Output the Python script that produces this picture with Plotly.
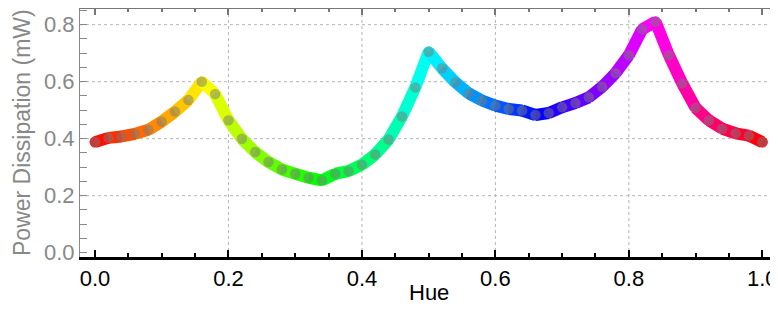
import colorsys
import plotly.graph_objects as go

hue = [round(i * 0.02, 2) for i in range(51)]
power = [0.388, 0.403, 0.408, 0.417, 0.431, 0.460, 0.495, 0.536, 0.600, 0.557,
         0.465, 0.400, 0.353, 0.318, 0.292, 0.277, 0.263, 0.254, 0.277, 0.286,
         0.309, 0.345, 0.397, 0.478, 0.580, 0.705, 0.647, 0.598, 0.559, 0.534,
         0.516, 0.504, 0.499, 0.483, 0.490, 0.510, 0.525, 0.545, 0.582, 0.630,
         0.693, 0.784, 0.810, 0.693, 0.594, 0.508, 0.464, 0.435, 0.419, 0.411,
         0.388]
grid_x = [0.2, 0.4, 0.6, 0.8]
grid_y = [0.2, 0.4, 0.6, 0.8]
x_title = "Hue"
y_title = "Power Dissipation (mW)"


def hue_rgb(h):
    r, g, b = colorsys.hsv_to_rgb(h % 1.0, 1, 1)
    return f"rgb({int(r*255)},{int(g*255)},{int(b*255)})"


fig = go.Figure()

# joint fillers
fig.add_trace(go.Scatter(x=hue, y=power, mode="markers",
                         marker=dict(size=11, color=[hue_rgb(h) for h in hue], line=dict(width=0)),
                         hoverinfo="skip", showlegend=False))
# coloured segments
for i in range(len(hue) - 1):
    hm = (hue[i] + hue[i + 1]) / 2
    fig.add_trace(go.Scatter(x=hue[i:i + 2], y=power[i:i + 2], mode="lines",
                             line=dict(color=hue_rgb(hm), width=12),
                             hoverinfo="skip", showlegend=False))
# grey dots
fig.add_trace(go.Scatter(x=hue, y=power, mode="markers",
                         marker=dict(size=10.5, color="rgba(122,122,122,0.5)", line=dict(width=0)),
                         hoverinfo="skip", showlegend=False))
# dummy on top axis
fig.add_trace(go.Scatter(x=[hue[0]], y=[power[0]], xaxis="x2", mode="markers",
                         marker=dict(opacity=0), hoverinfo="skip", showlegend=False))

shapes = []
for gx in grid_x:
    shapes.append(dict(type="line", xref="x", yref="paper", x0=gx, x1=gx, y0=0, y1=1,
                       line=dict(color="#b4b4b4", width=1, dash="dot"), layer="below"))
for gy in grid_y:
    shapes.append(dict(type="line", xref="paper", yref="y", x0=0, x1=1, y0=gy, y1=gy,
                       line=dict(color="#b4b4b4", width=1, dash="dot"), layer="below"))

annotations = [
    dict(text=x_title, xref="paper", yref="paper", x=0.5, y=0, yshift=-35,
         xanchor="center", yanchor="middle", showarrow=False,
         font=dict(size=22, color="black")),
    dict(text=y_title, xref="paper", yref="paper", x=0, y=0.5, xshift=-58,
         xanchor="center", yanchor="middle", showarrow=False, textangle=-90,
         font=dict(size=23, color="#888")),
]

xr = [-0.0225, 1.022]
fig.update_layout(
    width=770, height=317,
    margin=dict(l=72, r=1, t=1, b=68),
    paper_bgcolor="white", plot_bgcolor="white",
    font=dict(family="Liberation Sans, Arial, sans-serif"),
    shapes=shapes,
    annotations=annotations,
    xaxis=dict(range=xr, tick0=0, dtick=0.2, tickformat=".1f",
               ticks="inside", ticklen=7, tickwidth=2, tickcolor="black",
               showline=True, linecolor="black", linewidth=3,
               showgrid=False, zeroline=False, automargin=False,
               tickfont=dict(size=22, color="black"),
               minor=dict(dtick=0.05, tick0=0, ticks="inside", ticklen=4, tickwidth=1.5, tickcolor="black")),
    xaxis2=dict(range=xr, overlaying="x", side="top", anchor="y", tick0=0, dtick=0.2,
                ticks="inside", ticklen=6, tickwidth=2, tickcolor="#777",
                showline=True, linecolor="#777", linewidth=3, automargin=False,
                showgrid=False, zeroline=False, showticklabels=False,
                minor=dict(dtick=0.05, tick0=0, ticks="inside", ticklen=3, tickwidth=1.5, tickcolor="#777")),
    yaxis=dict(range=[-0.015, 0.855], tick0=0, dtick=0.2, tickformat=".1f",
               ticks="inside", ticklen=7, tickwidth=1.2, tickcolor="#888",
               showline=True, linecolor="#888", linewidth=1, mirror="allticks",
               showgrid=False, zeroline=False, automargin=False,
               tickfont=dict(size=22, color="#888"),
               minor=dict(dtick=0.05, tick0=0, ticks="inside", ticklen=4, tickwidth=1, tickcolor="#888")),
)

fig.write_html("out.html")
